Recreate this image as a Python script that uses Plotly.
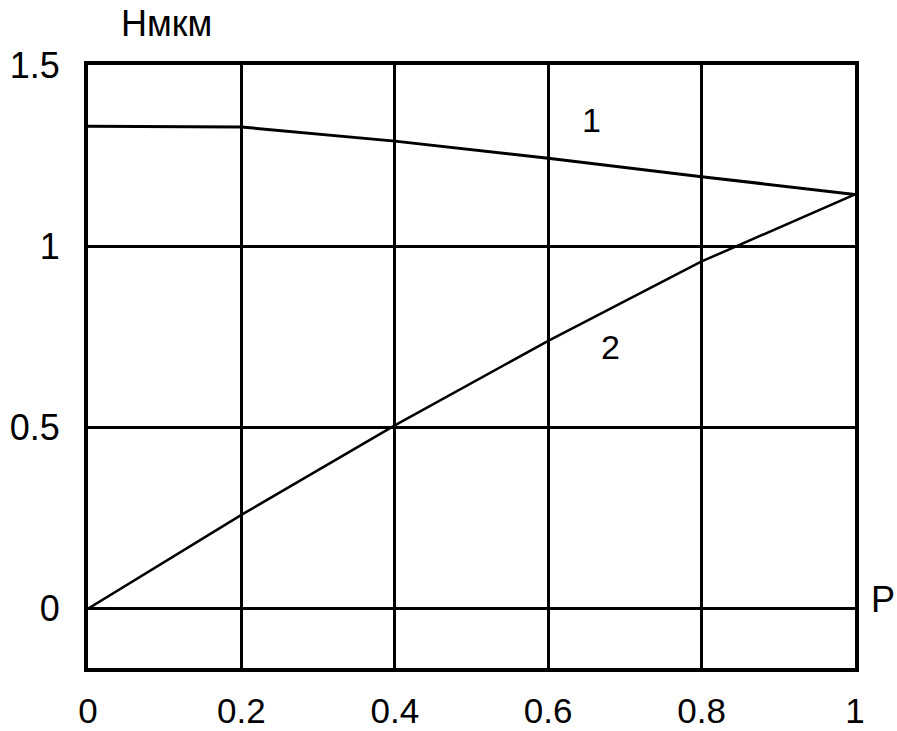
import plotly.graph_objects as go

# Data
x_vals = [0.0, 0.2, 0.4, 0.6, 0.8, 1.0]
curve1 = [1.331, 1.329, 1.290, 1.243, 1.192, 1.143]
curve2 = [0.0, 0.259, 0.506, 0.739, 0.958, 1.143]

x_ticks = [0, 0.2, 0.4, 0.6, 0.8, 1]
x_tick_labels = ["0", "0.2", "0.4", "0.6", "0.8", "1"]
y_ticks = [0, 0.5, 1, 1.5]
y_tick_labels = ["0", "0.5", "1", "1.5"]

font_family = "Liberation Sans, Arial, sans-serif"

fig = go.Figure()
fig.add_trace(go.Scatter(x=x_vals, y=curve1, mode="lines",
                         line=dict(color="black", width=3), showlegend=False))
fig.add_trace(go.Scatter(x=x_vals, y=curve2, mode="lines",
                         line=dict(color="black", width=2.5), showlegend=False))

fig.update_layout(
    width=897, height=731,
    margin=dict(l=88, r=42, t=65, b=63, autoexpand=False),
    paper_bgcolor="white", plot_bgcolor="white",
    font=dict(family=font_family, size=36, color="black"),
    xaxis=dict(range=[0, 1], tickvals=x_ticks, ticktext=x_tick_labels,
               showgrid=True, gridcolor="black", gridwidth=3,
               zeroline=False, showline=True, linecolor="black", linewidth=4,
               mirror=True, ticks="", ticklabelstandoff=9, automargin=False,
               tickfont=dict(size=35, family=font_family, color="black")),
    yaxis=dict(range=[-0.1635, 1.5], tickvals=y_ticks, ticktext=y_tick_labels,
               showgrid=True, gridcolor="black", gridwidth=3,
               zeroline=True, zerolinecolor="black", zerolinewidth=3,
               showline=True, linecolor="black", linewidth=4,
               mirror=True, ticks="", ticklabelstandoff=17, automargin=False,
               tickfont=dict(size=36, family=font_family, color="black")),
    annotations=[
        dict(x=0.657, y=1.349, xref="x", yref="y", text="1", showarrow=False,
             font=dict(size=34, family=font_family, color="black")),
        dict(x=0.681, y=0.723, xref="x", yref="y", text="2", showarrow=False,
             font=dict(size=34, family=font_family, color="black")),
        dict(x=(166 - 88) / 767, y=(668 - 23) / 603, xref="paper", yref="paper",
             text="Нмкм", showarrow=False, xanchor="center", yanchor="middle",
             font=dict(size=36, family=font_family, color="black")),
        dict(x=(897 - 88) / 767, y=0.025, xref="paper", yref="y", text="P",
             showarrow=False, xanchor="right", yanchor="middle",
             font=dict(size=36, family=font_family, color="black")),
    ],
)

fig.write_html(
    "out.html",
    config={"displayModeBar": False},
    post_script="document.body.style.margin='0';document.body.style.overflow='hidden';",
)
